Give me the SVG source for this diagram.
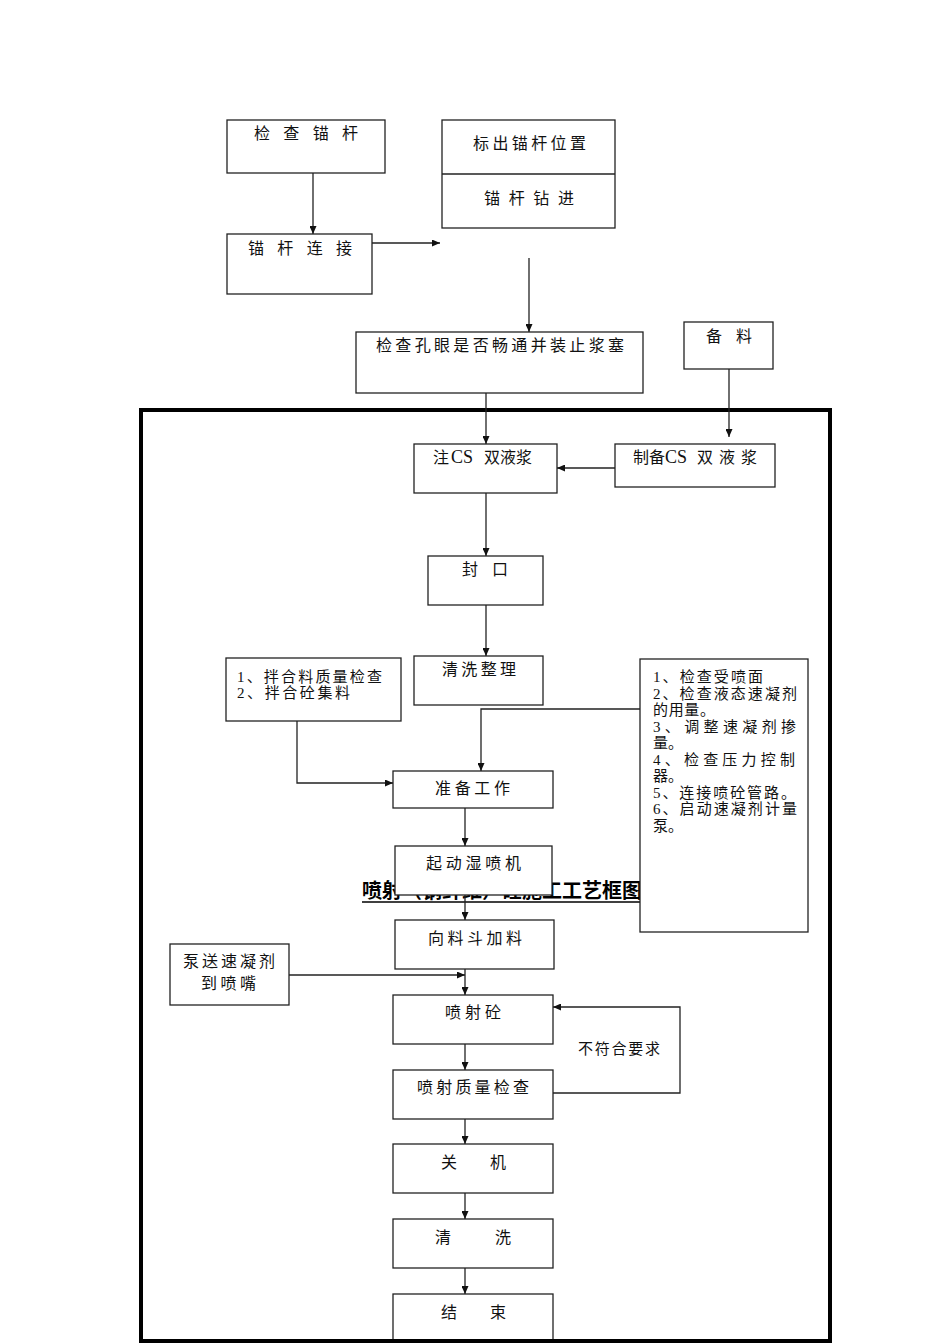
<svg xmlns="http://www.w3.org/2000/svg" width="950" height="1344" viewBox="0 0 950 1344">
<style>
.box{fill:#fff;stroke:#222;stroke-width:1.3}
.t{font-family:"Liberation Serif","Noto Sans CJK SC",serif;font-size:16px;fill:#111}
.s{font-family:"Liberation Serif","Noto Sans CJK SC",serif;font-size:15px;fill:#111}
.lat{font-family:"Liberation Serif",serif;font-size:18px}
.c{fill:none;stroke:#222;stroke-width:1.3}
.title{font-family:"Noto Sans CJK SC",sans-serif;font-size:20px;font-weight:700;fill:#000}
</style>
<defs>
<marker id="ah" markerUnits="userSpaceOnUse" markerWidth="9" markerHeight="7" refX="8" refY="3.5" orient="auto">
<path d="M0,0 L8,3.5 L0,7 z" fill="#111"/>
</marker>
</defs>
<rect width="950" height="1344" fill="#fff"/>
<rect id="frame" x="141" y="410" width="689" height="931" fill="none" stroke="#000" stroke-width="4"/>
<g id="title">
<text class="title" x="362" y="898">喷射（钢纤维）砼施工工艺框图</text>
<line x1="362" y1="902" x2="645" y2="902" stroke="#000" stroke-width="1.5"/>
</g>
<g id="connectors">
<line class="c" x1="313" y1="173" x2="313" y2="234" marker-end="url(#ah)"/>
<line class="c" x1="372" y1="243" x2="440" y2="243" marker-end="url(#ah)"/>
<line class="c" x1="529" y1="258" x2="529" y2="332" marker-end="url(#ah)"/>
<line class="c" x1="486" y1="393" x2="486" y2="444" marker-end="url(#ah)"/>
<line class="c" x1="729" y1="369" x2="729" y2="437" marker-end="url(#ah)"/>
<line class="c" x1="615" y1="468" x2="557" y2="468" marker-end="url(#ah)"/>
<line class="c" x1="486" y1="493" x2="486" y2="556" marker-end="url(#ah)"/>
<line class="c" x1="486" y1="605" x2="486" y2="656" marker-end="url(#ah)"/>
<polyline class="c" points="297,721 297,783 393,783" marker-end="url(#ah)"/>
<polyline class="c" points="640,709 481,709 481,771" marker-end="url(#ah)"/>
<line class="c" x1="465" y1="808" x2="465" y2="846" marker-end="url(#ah)"/>
<line class="c" x1="465" y1="895" x2="465" y2="920" marker-end="url(#ah)"/>
<line class="c" x1="289" y1="975" x2="465" y2="975" marker-end="url(#ah)"/>
<line class="c" x1="465" y1="969" x2="465" y2="995" marker-end="url(#ah)"/>
<line class="c" x1="465" y1="1044" x2="465" y2="1070" marker-end="url(#ah)"/>
<polyline class="c" points="553,1093 680,1093 680,1007 553,1007" marker-end="url(#ah)"/>
<line class="c" x1="465" y1="1119" x2="465" y2="1144" marker-end="url(#ah)"/>
<line class="c" x1="465" y1="1193" x2="465" y2="1219" marker-end="url(#ah)"/>
<line class="c" x1="465" y1="1268" x2="465" y2="1294" marker-end="url(#ah)"/>
<text class="s" x="578" y="1054" textLength="82" lengthAdjust="spacing">不符合要求</text>
</g>
<g id="n1"><rect class="box" x="227" y="120" width="158" height="53"/><text class="t" x="254" y="139" textLength="104" lengthAdjust="spacing">检 查 锚 杆</text></g>
<g id="n2"><rect class="box" x="442" y="120" width="173" height="108"/><line x1="442" y1="174" x2="615" y2="174" stroke="#222" stroke-width="1.3"/><text class="t" x="473" y="149" textLength="113" lengthAdjust="spacing">标出锚杆位置</text><text class="t" x="484" y="204" textLength="90" lengthAdjust="spacing">锚 杆 钻 进</text></g>
<g id="n3"><rect class="box" x="227" y="234" width="145" height="60"/><text class="t" x="248" y="254" textLength="104" lengthAdjust="spacing">锚 杆 连 接</text></g>
<g id="n4"><rect class="box" x="356" y="332" width="287" height="61"/><text class="t" x="376" y="351" textLength="248" lengthAdjust="spacing">检查孔眼是否畅通并装止浆塞</text></g>
<g id="n5"><rect class="box" x="684" y="322" width="89" height="47"/><text class="t" x="706" y="342" textLength="46" lengthAdjust="spacing">备 料</text></g>
<g id="n6"><rect class="box" x="414" y="444" width="143" height="49"/><text class="t" x="433" y="463" font-size="17"><tspan>注</tspan><tspan x="451" class="lat">CS</tspan><tspan x="484">双液浆</tspan></text></g>
<g id="n7"><rect class="box" x="615" y="444" width="160" height="43"/><text class="t" x="633" y="463" font-size="17"><tspan>制备</tspan><tspan x="665" class="lat">CS</tspan><tspan x="697" textLength="60" lengthAdjust="spacing">双液浆</tspan></text></g>
<g id="n8"><rect class="box" x="428" y="556" width="115" height="49"/><text class="t" x="462" y="575" textLength="46" lengthAdjust="spacing">封 口</text></g>
<g id="n9"><rect class="box" x="414" y="656" width="129" height="49"/><text class="t" x="442" y="675" textLength="74" lengthAdjust="spacing">清洗整理</text></g>
<g id="n10"><rect class="box" x="226" y="658" width="175" height="63"/><text class="s" x="237" y="682" textLength="145" lengthAdjust="spacing">1、拌合料质量检查</text><text class="s" x="237" y="698" textLength="113" lengthAdjust="spacing">2、拌合砼集料</text></g>
<g id="n11"><rect class="box" x="640" y="659" width="168" height="273"/>
<text class="s" x="653" y="682" textLength="110" lengthAdjust="spacing">1、检查受喷面</text>
<text class="s" x="653" y="698.5" textLength="144" lengthAdjust="spacing">2、检查液态速凝剂</text>
<text class="s" x="653" y="715" textLength="62" lengthAdjust="spacing">的用量。</text>
<text class="s" x="653" y="731.5" textLength="143" lengthAdjust="spacing">3、调整速凝剂掺</text>
<text class="s" x="653" y="748">量。</text>
<text class="s" x="653" y="764.5" textLength="142" lengthAdjust="spacing">4、检查压力控制</text>
<text class="s" x="653" y="781">器。</text>
<text class="s" x="653" y="797.5" textLength="143" lengthAdjust="spacing">5、连接喷砼管路。</text>
<text class="s" x="653" y="814" textLength="144" lengthAdjust="spacing">6、启动速凝剂计量</text>
<text class="s" x="653" y="830.5">泵。</text>
</g>
<g id="n12"><rect class="box" x="393" y="771" width="160" height="37"/><text class="t" x="435" y="794" textLength="75" lengthAdjust="spacing">准备工作</text></g>
<g id="n13"><rect class="box" x="395" y="846" width="157" height="49"/><text class="t" x="426" y="869" textLength="95" lengthAdjust="spacing">起动湿喷机</text></g>
<g id="n14"><rect class="box" x="395" y="920" width="159" height="49"/><text class="t" x="428" y="944" textLength="94" lengthAdjust="spacing">向料斗加料</text></g>
<g id="n15"><rect class="box" x="170" y="944" width="119" height="61"/><text class="t" x="183" y="967" textLength="92" lengthAdjust="spacing">泵送速凝剂</text><text class="t" x="201" y="989" textLength="55" lengthAdjust="spacing">到喷嘴</text></g>
<g id="n16"><rect class="box" x="393" y="995" width="160" height="49"/><text class="t" x="445" y="1018" textLength="56" lengthAdjust="spacing">喷射砼</text></g>
<g id="n17"><rect class="box" x="393" y="1070" width="160" height="49"/><text class="t" x="417" y="1093" textLength="112" lengthAdjust="spacing">喷射质量检查</text></g>
<g id="n18"><rect class="box" x="393" y="1144" width="160" height="49"/><text class="t" x="441" y="1168" textLength="65" lengthAdjust="spacing">关    机</text></g>
<g id="n19"><rect class="box" x="393" y="1219" width="160" height="49"/><text class="t" x="435" y="1243" textLength="76" lengthAdjust="spacing">清      洗</text></g>
<g id="n20"><rect class="box" x="393" y="1294" width="160" height="48"/><text class="t" x="441" y="1318" textLength="65" lengthAdjust="spacing">结    束</text></g>
<line x1="139" y1="1341" x2="832" y2="1341" stroke="#000" stroke-width="4"/>
</svg>
